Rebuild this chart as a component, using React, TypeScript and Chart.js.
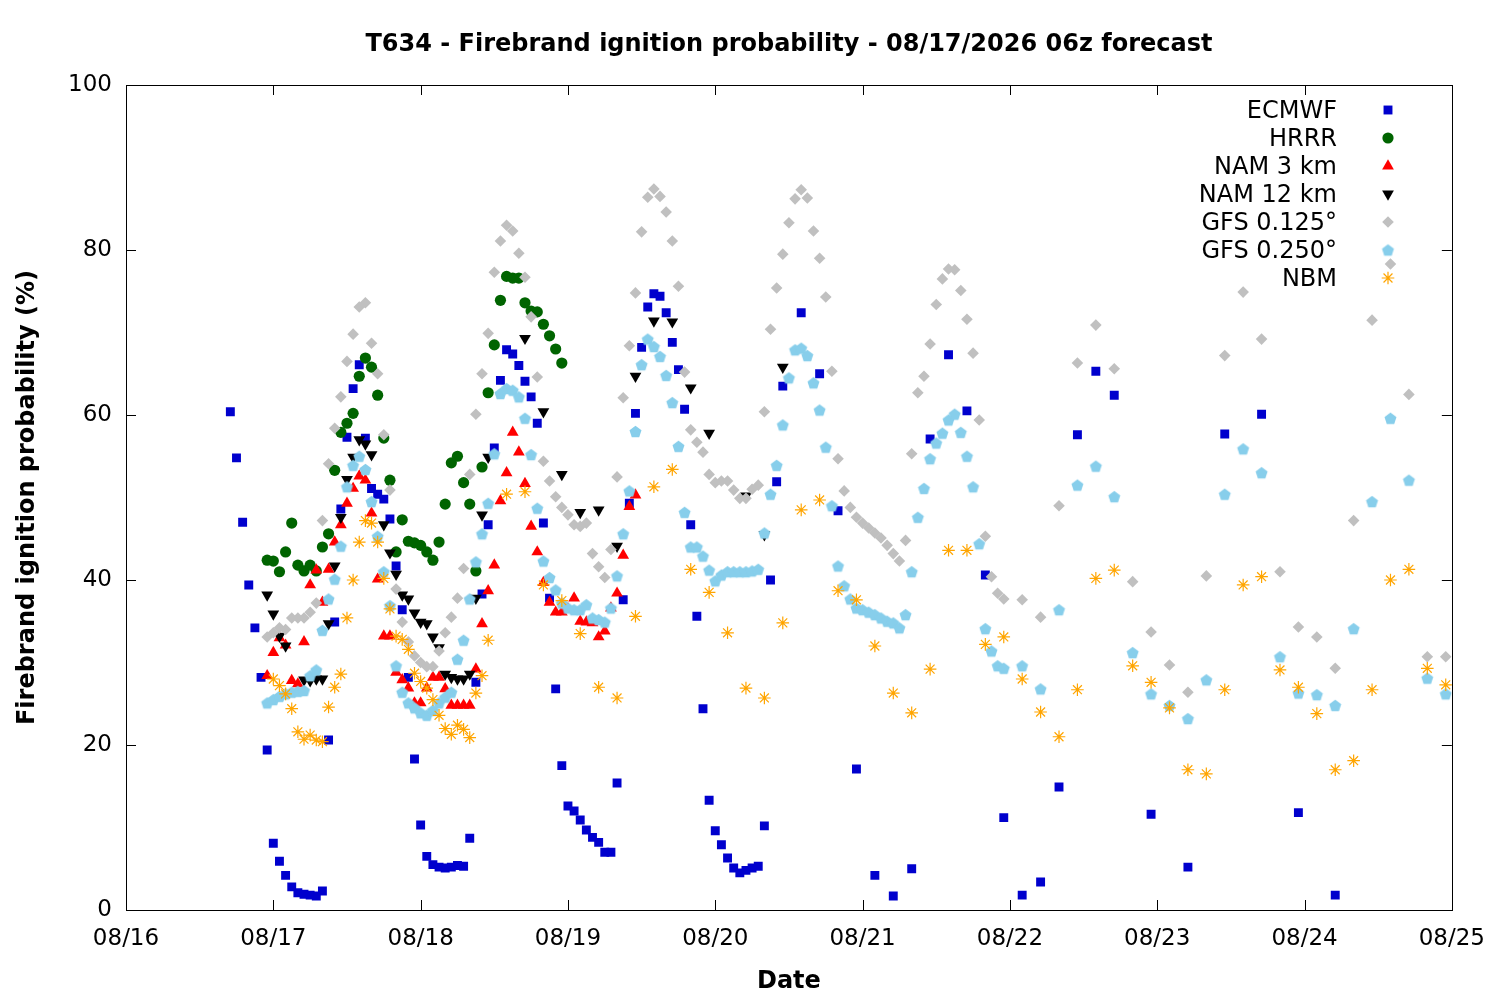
import React, { useEffect, useRef } from "react";
import { Chart, registerables } from "chart.js";
Chart.register(...registerables);

const chartTitle = "T634 - Firebrand ignition probability - 08/17/2026 06z forecast";
const xAxisTitle = "Date";
const yAxisTitle = "Firebrand ignition probability (%)";
const dayLabels = ["08/16", "08/17", "08/18", "08/19", "08/20", "08/21", "08/22", "08/23", "08/24", "08/25"];
const yTickValues = [0, 20, 40, 60, 80, 100];
const seriesNames = ["ECMWF", "HRRR", "NAM 3 km", "NAM 12 km", "GFS 0.125°", "GFS 0.250°", "NBM"];

// hours since 08/16 00z
const ecmwfHours = [17,18,19,20,21,22,23,24,25,26,27,28,29,30,31,32,33,34,35,36,37,38,39,40,41,42,43,44,45,46,47,48,49,50,51,52,53,54,55,56,57,58,59,60,61,62,63,64,65,66,67,68,69,70,71,72,73,74,75,76,77,78,79,80,81,82,83,84,85,86,87,88,89,90,91,92,93,94,95,96,97,98,99,100,101,102,103,104,105,106,107,110,113,116,119,122,125,128,131,134,137,140,143,146,149,152,155,158,161,167,173,179,185,191,197];
const ecmwfValues = [60.4,54.8,47.0,39.4,34.2,28.2,19.4,8.1,5.9,4.2,2.8,2.1,1.9,1.8,1.7,2.3,20.6,34.9,48.6,57.3,63.2,66.1,57.2,51.1,50.4,49.8,47.4,41.7,36.4,28.2,18.3,10.3,6.5,5.5,5.2,5.1,5.2,5.4,5.3,8.7,27.6,38.3,46.7,56.0,64.2,67.9,67.4,66.0,64.1,62.2,59.0,46.9,37.8,26.8,17.5,12.6,12.0,10.9,9.7,8.8,8.2,7.0,7.0,15.4,37.6,49.3,60.2,68.2,73.1,74.7,74.4,72.4,68.8,65.5,60.7,46.7,35.6,24.4,13.3,9.6,7.9,6.3,5.1,4.5,4.8,5.1,5.3,10.2,40.0,51.9,63.5,72.4,65.0,48.4,17.1,4.2,1.7,5.0,57.1,67.3,60.5,40.6,11.2,1.8,3.4,14.9,57.6,65.3,62.4,11.6,5.2,57.7,60.1,11.8,1.8];

const hrrrHours = [23,24,25,26,27,28,29,30,31,32,33,34,35,36,37,38,39,40,41,42,43,44,45,46,47,48,49,50,51,52,53,54,55,56,57,58,59,60,61,62,63,64,65,66,67,68,69,70,71];
const hrrrValues = [42.4,42.3,41.0,43.4,46.9,41.8,41.1,41.8,41.1,44.0,45.6,53.3,57.9,59.0,60.2,64.7,66.9,65.8,62.4,57.2,52.1,43.4,47.3,44.7,44.5,44.2,43.4,42.4,44.6,49.2,54.2,55.0,51.8,49.2,41.1,53.7,62.7,68.5,73.9,76.8,76.6,76.6,73.6,72.6,72.5,71.0,69.6,68.0,66.3];

const nam3Hours = [23,24,25,26,27,28,29,30,31,32,33,34,35,36,37,38,39,40,41,42,43,44,45,46,47,48,49,50,51,52,53,54,55,56,57,58,59,60,61,62,63,64,65,66,67,68,69,70,71,72,73,74,75,76,77,78,79,80,81,82,83];
const nam3Values = [28.4,31.2,33.0,32.1,27.8,27.4,32.5,39.4,41.2,37.3,41.3,44.6,46.7,49.3,51.1,52.6,52.1,48.1,40.1,33.2,33.2,28.8,27.9,26.9,25.1,25.1,26.9,28.2,28.2,26.8,24.8,24.8,24.8,24.8,29.2,34.7,38.7,41.8,49.6,53.0,57.9,55.5,51.7,46.5,43.4,39.7,37.3,36.1,36.1,36.5,37.8,35.0,34.9,34.8,33.1,33.8,36.6,38.4,43.0,48.9,50.3];

const nam12Hours = [23,24,25,26,29,30,31,32,33,34,35,36,37,38,39,40,42,43,44,45,46,47,48,49,50,51,52,53,54,55,56,57,58,59,65,68,71,74,77,80,83,86,89,92,95,101,104,107];
const nam12Values = [38.2,35.9,33.2,32.0,27.9,27.8,28.0,28.0,34.7,41.7,47.6,52.2,54.9,57.0,56.5,55.2,46.7,43.3,40.7,38.2,37.7,36.0,34.9,34.7,33.1,31.8,28.6,28.2,28.0,28.0,28.6,37.8,47.9,54.9,69.3,60.4,52.8,48.2,48.5,44.1,64.7,71.4,71.3,63.3,57.8,50.2,45.5,65.8];

const gfs125Hours = [23,24,25,26,27,28,29,30,31,32,33,34,35,36,37,38,39,40,41,42,43,44,45,46,47,48,49,50,51,52,53,54,55,56,57,58,59,60,61,62,63,64,65,66,67,68,69,70,71,72,73,74,75,76,77,78,79,80,81,82,83,84,85,86,87,88,89,90,91,92,93,94,95,96,97,98,99,100,101,102,103,104,105,106,107,108,109,110,111,112,113,114,115,116,117,118,119,120,121,122,123,124,125,126,127,128,129,130,131,132,133,134,135,136,137,138,139,140,141,142,143,146,149,152,155,158,161,164,167,170,173,176,179,182,185,188,191,194,197,200,203,206,209,212,215];
const gfs125Values = [33.1,33.6,34.2,34.0,35.4,35.4,35.4,36.1,37.2,47.2,54.1,58.4,62.2,66.5,69.8,73.1,73.6,68.7,65.0,57.6,50.9,38.9,34.9,32.5,30.8,30.0,29.5,29.5,31.4,33.6,35.5,37.8,41.4,52.8,60.1,65.0,69.9,77.3,81.1,83.0,82.3,79.6,76.7,71.9,64.6,54.4,52.0,50.1,48.8,47.9,46.7,46.5,46.9,43.2,41.6,40.3,43.7,52.5,62.1,68.4,74.8,82.2,86.4,87.4,86.5,84.6,81.1,75.6,65.2,58.2,56.7,55.5,52.8,51.8,52.0,52.0,50.9,49.9,49.9,51.0,51.5,60.4,70.4,75.4,79.5,83.3,86.2,87.3,86.3,82.3,79.0,74.3,65.3,54.7,50.8,48.8,47.6,46.9,46.3,45.7,45.1,44.2,43.2,42.3,44.8,55.3,62.7,64.7,68.6,73.4,76.5,77.7,77.6,75.1,71.6,67.5,59.4,45.3,40.4,38.4,37.7,37.6,35.5,49.0,66.3,70.9,65.6,39.8,33.7,29.7,26.4,40.5,67.2,74.9,69.2,41.0,34.3,33.1,29.3,47.2,71.5,78.3,62.5,30.7,30.7];

const gfs250Hours = gfs125Hours;
const gfs250Values = [25.1,25.5,25.9,26.2,26.4,26.5,26.6,28.4,29.1,33.9,37.7,40.1,44.1,51.3,53.9,55.0,53.4,49.5,45.3,41.0,36.9,29.6,26.4,25.1,24.5,23.9,23.6,24.2,25.1,25.8,26.4,30.4,32.7,37.7,42.2,45.6,49.3,55.3,62.6,63.2,63.0,62.2,59.6,55.2,48.7,42.3,40.3,38.8,37.2,36.6,36.4,36.4,37.0,35.4,35.2,34.9,36.6,40.5,45.6,50.8,58.0,66.1,69.2,68.3,67.1,64.8,61.5,56.2,48.2,44.0,44.0,42.9,41.2,39.9,40.6,41.0,41.0,41.0,41.0,41.1,41.3,45.7,50.4,53.9,58.8,64.5,67.9,68.1,67.2,63.9,60.6,56.1,49.0,41.7,39.3,37.7,36.6,36.4,36.1,35.8,35.4,35.0,34.8,34.2,35.8,41.0,47.6,51.1,54.7,56.6,57.8,59.4,60.1,57.9,55.0,51.3,44.4,34.1,31.4,29.6,29.3,29.6,26.8,36.4,51.5,53.8,50.1,31.2,26.2,24.8,23.2,27.9,50.4,55.9,53.0,30.7,26.3,26.1,24.8,34.1,49.5,59.6,52.1,28.1,26.2];

const nbmHours = [24,25,26,27,28,29,30,31,32,33,34,35,36,37,38,39,40,41,42,43,44,45,46,47,48,49,50,51,52,53,54,55,56,57,58,59,62,65,68,71,74,77,80,83,86,89,92,95,98,101,104,107,110,113,116,119,122,125,128,131,134,137,140,143,146,149,152,155,158,161,164,167,170,173,176,179,182,185,188,191,194,197,200,203,206,209,212,215];
const nbmValues = [28.0,27.2,26.2,24.4,21.6,20.7,21.2,20.6,20.4,24.6,27.0,28.6,35.4,40.0,44.6,47.2,46.9,44.6,40.2,36.5,33.2,32.8,31.6,28.7,27.7,26.9,25.5,23.6,22.0,21.3,22.4,21.9,20.9,26.3,28.4,32.7,50.4,50.7,39.4,37.5,33.5,27.0,25.7,35.6,51.3,53.4,41.3,38.5,33.6,26.9,25.7,34.8,48.5,49.7,38.7,37.6,32.0,26.3,23.9,29.2,43.6,43.6,32.2,33.1,28.0,24.0,21.0,26.7,40.2,41.2,29.6,27.6,24.5,17.0,16.5,26.7,39.4,40.4,29.1,27.0,23.8,17.0,18.1,26.7,40.0,41.3,29.3,27.3];

const FONT = "'DejaVu Sans', 'Liberation Sans', sans-serif";

function makePentagon(color: string, r: number): HTMLCanvasElement {
  const size = Math.ceil(r * 2) + 2;
  const c = document.createElement("canvas");
  c.width = size;
  c.height = size;
  const ctx = c.getContext("2d")!;
  ctx.fillStyle = color;
  ctx.beginPath();
  const cx = size / 2;
  const cy = size / 2 + r * 0.1;
  for (let i = 0; i < 5; i++) {
    const a = -Math.PI / 2 + (i * 2 * Math.PI) / 5;
    const px = cx + r * Math.cos(a);
    const py = cy + r * Math.sin(a);
    if (i === 0) ctx.moveTo(px, py);
    else ctx.lineTo(px, py);
  }
  ctx.closePath();
  ctx.fill();
  return c;
}

function drawMarker(ctx: CanvasRenderingContext2D, ds: any, x: number, y: number) {
  const style = ds.pointStyle;
  const r = ds.pointRadius;
  const color = ds.backgroundColor;
  ctx.save();
  ctx.fillStyle = color;
  ctx.strokeStyle = ds.borderColor;
  ctx.lineWidth = ds.borderWidth || 1;
  if (typeof style !== "string") {
    ctx.drawImage(style, x - style.width / 2, y - style.height / 2);
    ctx.restore();
    return;
  }
  ctx.beginPath();
  if (style === "rect") {
    const s = Math.SQRT1_2 * r;
    ctx.rect(x - s, y - s, 2 * s, 2 * s);
    ctx.fill();
  } else if (style === "circle") {
    ctx.arc(x, y, r, 0, Math.PI * 2);
    ctx.fill();
  } else if (style === "triangle") {
    let rad = ((ds.pointRotation || 0) * Math.PI) / 180;
    ctx.moveTo(x + Math.sin(rad) * r, y - Math.cos(rad) * r);
    rad += (2 * Math.PI) / 3;
    ctx.lineTo(x + Math.sin(rad) * r, y - Math.cos(rad) * r);
    rad += (2 * Math.PI) / 3;
    ctx.lineTo(x + Math.sin(rad) * r, y - Math.cos(rad) * r);
    ctx.closePath();
    ctx.fill();
  } else if (style === "rectRot") {
    ctx.moveTo(x, y - r);
    ctx.lineTo(x + r, y);
    ctx.lineTo(x, y + r);
    ctx.lineTo(x - r, y);
    ctx.closePath();
    ctx.fill();
  } else if (style === "star") {
    const d = r * Math.SQRT1_2;
    ctx.moveTo(x - r, y); ctx.lineTo(x + r, y);
    ctx.moveTo(x, y - r); ctx.lineTo(x, y + r);
    ctx.moveTo(x - d, y - d); ctx.lineTo(x + d, y + d);
    ctx.moveTo(x - d, y + d); ctx.lineTo(x + d, y - d);
    ctx.stroke();
  }
  ctx.restore();
}

const framePlugin = {
  id: "gnuplotFrame",
  afterDatasetsDraw(chart: any) {
    const { ctx, chartArea } = chart;
    const { left, right, top, bottom } = chartArea;
    const xs = chart.scales.x;
    const ys = chart.scales.y;
    const tick = 10;
    ctx.save();
    ctx.strokeStyle = "#000";
    ctx.lineWidth = 1;
    ctx.beginPath();
    dayLabels.forEach((_, i) => {
      const px = Math.round(xs.getPixelForValue(i * 24)) + 0.5;
      ctx.moveTo(px, bottom);
      ctx.lineTo(px, bottom - tick);
      ctx.moveTo(px, top);
      ctx.lineTo(px, top + tick);
    });
    yTickValues.forEach((v) => {
      const py = Math.round(ys.getPixelForValue(v)) + 0.5;
      ctx.moveTo(left, py);
      ctx.lineTo(left + tick, py);
      ctx.moveTo(right, py);
      ctx.lineTo(right - tick, py);
    });
    ctx.stroke();
    ctx.strokeRect(Math.round(left) + 0.5, Math.round(top) + 0.5, Math.round(right - left), Math.round(bottom - top));
    ctx.restore();
  },
  afterDraw(chart: any) {
    const { ctx, chartArea } = chart;
    ctx.save();
    ctx.fillStyle = "#000";
    ctx.font = `bold 24px ${FONT}`;
    ctx.textAlign = "center";
    ctx.textBaseline = "middle";
    ctx.fillText(chartTitle, (chartArea.left + chartArea.right) / 2, 45);
    // legend
    ctx.font = `24px ${FONT}`;
    ctx.textAlign = "right";
    const datasets = chart.data.datasets;
    datasets.forEach((ds: any, i: number) => {
      const y = 110 + i * 28;
      ctx.fillStyle = "#000";
      ctx.fillText(ds.label, 1337, y + 2);
      drawMarker(ctx, ds, 1388, y);
    });
    ctx.restore();
  },
};

function toPoints(hours: number[], values: number[]) {
  return hours.map((h, i) => ({ x: h, y: values[i] }));
}

export default function App() {
  const canvasRef = useRef<HTMLCanvasElement | null>(null);

  useEffect(() => {
    document.body.style.margin = "0";
    const canvas = canvasRef.current;
    if (!canvas) return;
    const pentagon = makePentagon("#87CEEB", 6.3);

    const datasets: any[] = [
      { label: seriesNames[0], data: toPoints(ecmwfHours, ecmwfValues), pointStyle: "rect", pointRadius: 6.3, backgroundColor: "#0000CD", borderColor: "#0000CD", borderWidth: 0, order: 7 },
      { label: seriesNames[1], data: toPoints(hrrrHours, hrrrValues), pointStyle: "circle", pointRadius: 5.6, backgroundColor: "#006400", borderColor: "#006400", borderWidth: 0, order: 6 },
      { label: seriesNames[2], data: toPoints(nam3Hours, nam3Values), pointStyle: "triangle", pointRadius: 6.8, backgroundColor: "#FF0000", borderColor: "#FF0000", borderWidth: 0, order: 5 },
      { label: seriesNames[3], data: toPoints(nam12Hours, nam12Values), pointStyle: "triangle", pointRotation: 180, pointRadius: 6.8, backgroundColor: "#000000", borderColor: "#000000", borderWidth: 0, order: 4 },
      { label: seriesNames[4], data: toPoints(gfs125Hours, gfs125Values), pointStyle: "rectRot", pointRadius: 5.8, backgroundColor: "#C0C0C0", borderColor: "#C0C0C0", borderWidth: 0, order: 3 },
      { label: seriesNames[5], data: toPoints(gfs250Hours, gfs250Values), pointStyle: pentagon, pointRadius: 6, backgroundColor: "#87CEEB", borderColor: "#87CEEB", borderWidth: 0, order: 2 },
      { label: seriesNames[6], data: toPoints(nbmHours, nbmValues), pointStyle: "star", pointRadius: 6.3, backgroundColor: "#FFA500", borderColor: "#FFA500", borderWidth: 1.2, order: 1 },
    ];
    datasets.forEach((d) => {
      d.showLine = false;
      d.pointHoverRadius = d.pointRadius;
      d.pointBorderWidth = d.borderWidth;
    });

    const chart = new Chart(canvas, {
      type: "scatter",
      data: { datasets },
      plugins: [framePlugin],
      options: {
        animation: false,
        responsive: true,
        maintainAspectRatio: false,
        devicePixelRatio: 1,
        events: [],
        layout: { padding: { top: 85, right: 46, left: 0, bottom: 0 } },
        plugins: {
          legend: { display: false },
          title: { display: false },
          tooltip: { enabled: false },
        },
        scales: {
          x: {
            type: "linear",
            min: 0,
            max: 216,
            afterFit: (scale: any) => { scale.height = 90; },
            afterBuildTicks: (scale: any) => { scale.ticks = dayLabels.map((_, i) => ({ value: i * 24 })); },
            ticks: {
              autoSkip: false,
              maxRotation: 0,
              padding: 15,
              color: "#000",
              font: { family: FONT, size: 23 },
              callback: (v: any) => dayLabels[Math.round(Number(v) / 24)] ?? "",
            },
            grid: { display: false, drawTicks: false },
            border: { display: false },
            title: { display: true, text: xAxisTitle, color: "#000", font: { family: FONT, size: 24, weight: "bold" }, padding: { top: 0, bottom: 4 } },
          },
          y: {
            type: "linear",
            min: 0,
            max: 100,
            afterFit: (scale: any) => { scale.width = 126; },
            afterBuildTicks: (scale: any) => { scale.ticks = yTickValues.map((v) => ({ value: v })); },
            ticks: {
              padding: 14,
              color: "#000",
              font: { family: FONT, size: 23 },
              callback: (v: any) => String(v),
            },
            grid: { display: false, drawTicks: false },
            border: { display: false },
            title: { display: true, text: yAxisTitle, color: "#000", font: { family: FONT, size: 24, weight: "bold" }, padding: { top: 13, bottom: 0 } },
          },
        },
      } as any,
    });
    return () => chart.destroy();
  }, []);

  return (
    <div style={{ position: "absolute", left: 0, top: 0, width: 1500, height: 1000, background: "#fff" }}>
      <canvas ref={canvasRef} />
    </div>
  );
}
